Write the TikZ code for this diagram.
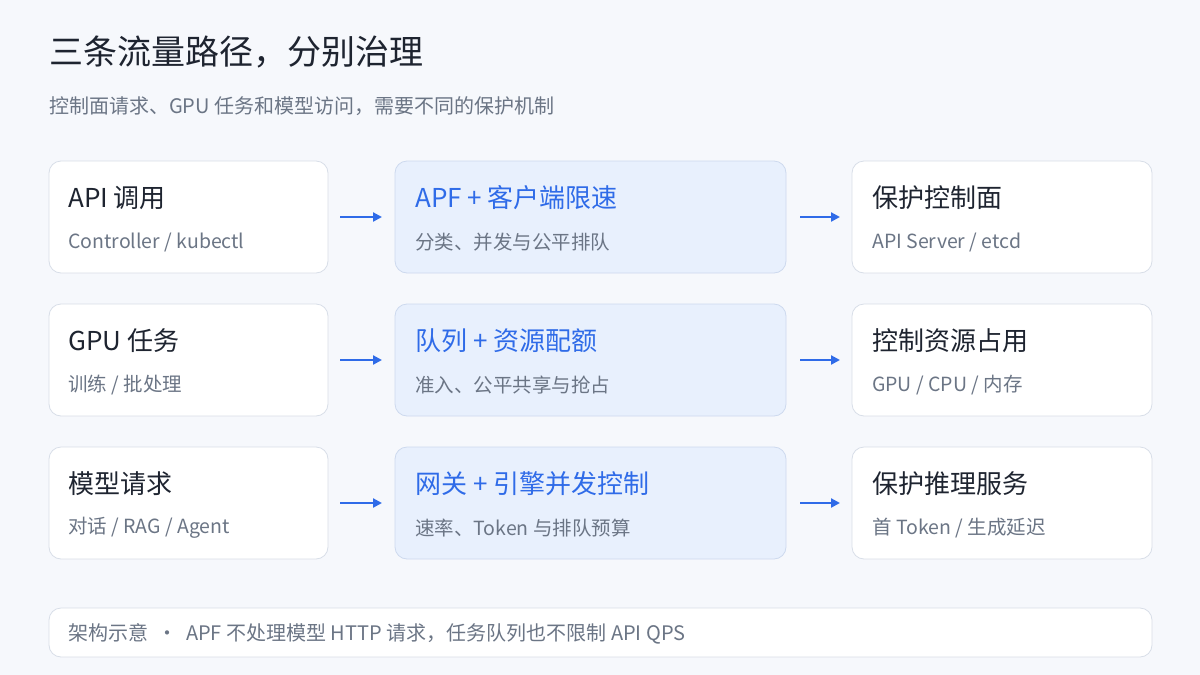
\documentclass[tikz,border=0pt]{standalone}
\usepackage{fontspec}
\setmainfont{Noto Sans CJK SC}
\usetikzlibrary{arrows.meta}
\definecolor{bg}{HTML}{F6F8FC}
\definecolor{dark}{HTML}{1E2430}
\definecolor{grey}{HTML}{6B7585}
\definecolor{blue}{HTML}{2F6BE8}
\definecolor{mfill}{HTML}{E8F0FD}
\definecolor{mline}{HTML}{CDD9EE}
\definecolor{wline}{HTML}{D8DEE8}
\newcommand\slsep{ / }
\begin{document}
\begin{tikzpicture}[x=1pt,y=-1pt,
 box/.style={draw=wline,fill=white,rounded corners=12pt,line width=0.8pt},
 mbox/.style={draw=mline,fill=mfill,rounded corners=12pt,line width=0.8pt},
 ttl/.style={anchor=west,inner sep=0pt,text=dark,font=\fontsize{26}{30}\selectfont},
 mttl/.style={anchor=west,inner sep=0pt,text=blue,font=\fontsize{26}{30}\selectfont},
 sub/.style={anchor=west,inner sep=0pt,text=grey,font=\fontsize{19.5}{22}\selectfont},
 arr/.style={draw=blue,line width=2.2pt,-{Triangle[length=9pt,width=9pt]}}]
\fill[bg] (0,0) rectangle (1200,675);
\useasboundingbox (0,0) rectangle (1200,675);
\node[anchor=west,inner sep=0pt,text=dark,font=\fontsize{34}{38}\selectfont] (title) at (49,52) {三条流量路径，分别治理};
\node[anchor=west,inner sep=0pt,text=grey,font=\fontsize{20}{22}\selectfont] (subt) at (49,106) {控制面请求、GPU 任务和模型访问，需要不同的保护机制};
\foreach \i/\y/\a/\as/\b/\bs/\c/\cs in {
 1/161/API 调用/Controller\slsep kubectl/APF + 客户端限速/分类、并发与公平排队/保护控制面/API Server\slsep etcd,
 2/304/GPU 任务/训练\slsep 批处理/队列 + 资源配额/准入、公平共享与抢占/控制资源占用/GPU\slsep CPU\slsep 内存,
 3/447/模型请求/对话\slsep RAG\slsep Agent/网关 + 引擎并发控制/速率、Token 与排队预算/保护推理服务/首 Token\slsep 生成延迟}{
 \draw[box] (49,\y) rectangle (328,\y+112);
 \node (l\i) at (188,\y+56) {};
 \node[ttl] (lt\i) at (68,\y+37) {\a};
 \node[sub] (ls\i) at (68,\y+81) {\as};
 \draw[mbox] (395,\y) rectangle (786,\y+112);
 \node (m\i) at (590,\y+56) {};
 \node[mttl] (mt\i) at (415,\y+37) {\b};
 \node[sub] (ms\i) at (415,\y+81) {\bs};
 \draw[box] (852,\y) rectangle (1152,\y+112);
 \node (r\i) at (1000,\y+56) {};
 \node[ttl] (rt\i) at (872,\y+37) {\c};
 \node[sub] (rs\i) at (872,\y+81) {\cs};
 \coordinate (a\i) at (340,\y+56); \coordinate (b\i) at (382,\y+56);
 \coordinate (c\i) at (800,\y+56); \coordinate (d\i) at (840,\y+56);
 \draw[arr] (a\i) -- (b\i);
 \draw[arr] (c\i) -- (d\i);
}
\draw[box] (49,608) rectangle (1152,657);
\node[sub,font=\fontsize{20}{22}\selectfont] (foot) at (68,634) {架构示意 \ · \ APF 不处理模型 HTTP 请求，任务队列也不限制 API QPS};
\end{tikzpicture}
\end{document}
